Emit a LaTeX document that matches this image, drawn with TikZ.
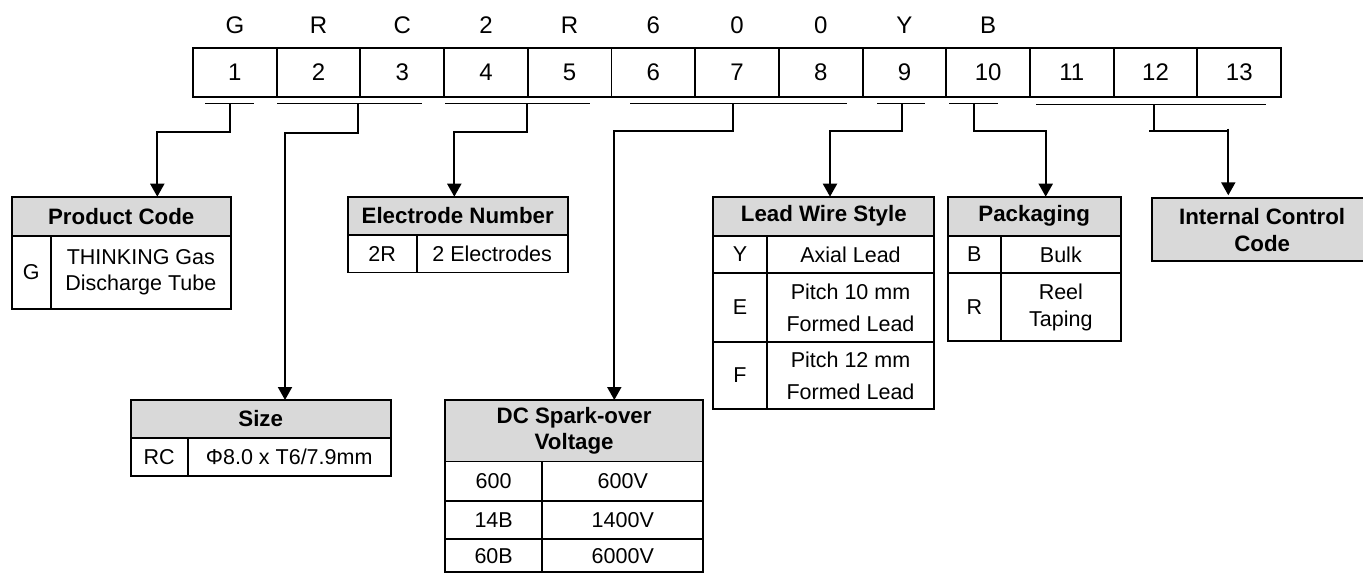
\documentclass[tikz,border=0pt]{standalone}
\usepackage{fontspec}
\setmainfont{Liberation Sans}
\usetikzlibrary{arrows.meta}
\definecolor{headgray}{RGB}{217,217,217}
\newcommand\tabfont{\fontsize{21.5}{26}\selectfont}
\newcommand\headfont{\fontsize{22.3}{26.5}\selectfont\bfseries}
\newcommand\codefont{\fontsize{24}{28}\selectfont}
\newcommand\cellnode[7][]{%
  \pgfmathsetmacro\cw{#4-#2}\pgfmathsetmacro\ch{#5-#3}%
  \node[cellbox,#1,minimum width=\cw pt,minimum height=\ch pt] (#6) at ({(#2+#4)/2},{(#3+#5)/2}) {#7};}
\tikzset{
  cellbox/.style={draw=black, line width=1.9pt, inner sep=0pt, outer sep=0pt, align=center, font=\tabfont},
  headbox/.style={fill=headgray, font=\headfont},
  codecell/.style={draw=black, line width=1.9pt, minimum width=83.7pt, minimum height=49pt, inner sep=0pt, outer sep=0pt, font=\codefont},
  letter/.style={inner sep=0pt, font=\codefont, anchor=base},
  uline/.style={line width=1.5pt},
  conn/.style={line width=2pt},
  arr/.style={conn, -{Triangle[width=14pt,length=13pt]}},
}
\begin{document}
\begin{tikzpicture}[x=1pt,y=-1pt]
\useasboundingbox (0,0) rectangle (1363,573);
% code row
\foreach \i in {1,...,13} {
  \pgfmathsetmacro\cx{193+83.7*(\i-0.5)}
  \node[codecell] (c\i) at (\cx,72.5) {\i};
}
\foreach \l [count=\i] in {G,R,C,2,R,6,0,0,Y,B} {
  \pgfmathsetmacro\cx{193+83.7*(\i-0.5)}
  \node[letter] (l\i) at (\cx,33.3) {\l};
}
% underlines
\coordinate (u1s) at (205,103.5);   \coordinate (u1e) at (254,103.5);   \coordinate (u1m) at (230,103.5);
\coordinate (u2s) at (277.3,103.5); \coordinate (u2e) at (422.3,103.5); \coordinate (u2m) at (358.3,103.5);
\coordinate (u3s) at (445,103.5);   \coordinate (u3e) at (590,103.5);   \coordinate (u3m) at (526.7,103.5);
\coordinate (u4s) at (630,103.5);   \coordinate (u4e) at (847.3,103.5); \coordinate (u4m) at (733.3,103.5);
\coordinate (u5s) at (877.3,103.5); \coordinate (u5e) at (925,103.5);   \coordinate (u5m) at (902.3,103.5);
\coordinate (u6s) at (949.3,103.5); \coordinate (u6e) at (998.3,103.5); \coordinate (u6m) at (974,103.5);
\coordinate (u7s) at (1036,104.5);  \coordinate (u7e) at (1266,104.5);  \coordinate (u7m) at (1154,104.5);
\foreach \k in {1,...,7} { \draw[uline] (u\k s) -- (u\k e); }
% bend points
\coordinate (k1) at (157.3,131.5);
\coordinate (k2) at (285,132.5);
\coordinate (k3) at (454.3,131.7);
\coordinate (k4) at (614.3,130.7);
\coordinate (k5) at (830,130.7);
\coordinate (k6) at (1045.7,130.7);
\coordinate (k7a) at (1154,132);
\coordinate (k7l) at (1149.3,131);
\coordinate (k7r) at (1229.3,131);
\coordinate (k7t) at (1228.3,128.5);
% Product Code
\cellnode[headbox]{11.7}{196.7}{230.7}{235.7}{pcT}{Product Code}
\cellnode{11.7}{235.7}{51}{309.3}{pcK}{G}
\cellnode{51}{235.7}{230.7}{309.3}{pcV}{THINKING Gas\\Discharge Tube}
% Size
\cellnode[headbox]{130.7}{400}{390.7}{437.7}{szT}{Size}
\cellnode{130.7}{437.7}{187.7}{475.7}{szK}{RC}
\cellnode{187.7}{437.7}{390.7}{475.7}{szV}{Φ8.0 x T6/7.9mm}
% Electrode Number
\cellnode[headbox]{347.7}{196.7}{567.7}{235}{enT}{Electrode Number}
\cellnode{347.7}{235}{416.7}{272.5}{enK}{2R}
\cellnode{416.7}{235}{567.7}{272.5}{enV}{2 Electrodes}
% DC Spark-over Voltage
\cellnode[headbox]{445}{400}{703.3}{461.5}{dcT}{DC Spark-over\\[0.2pt]Voltage}
\cellnode{445}{461.5}{542.3}{500.7}{dcK1}{600}
\cellnode{542.3}{461.5}{703.3}{500.7}{dcV1}{600V}
\cellnode{445}{500.7}{542.3}{539.3}{dcK2}{14B}
\cellnode{542.3}{500.7}{703.3}{539.3}{dcV2}{1400V}
\cellnode{445}{539.3}{542.3}{572}{dcK3}{60B}
\cellnode{542.3}{539.3}{703.3}{572}{dcV3}{6000V}
% Lead Wire Style
\cellnode[headbox]{713.3}{196.7}{934.3}{235.7}{lwT}{Lead Wire Style}
\cellnode{713.3}{235.7}{766.7}{273.3}{lwK1}{Y}
\cellnode{766.7}{235.7}{934.3}{273.3}{lwV1}{Axial Lead}
\cellnode{713.3}{273.3}{766.7}{341.7}{lwK2}{E}
\cellnode{766.7}{273.3}{934.3}{341.7}{lwV2}{Pitch 10 mm\\[5.7pt]Formed Lead}
\cellnode{713.3}{341.7}{766.7}{409.3}{lwK3}{F}
\cellnode{766.7}{341.7}{934.3}{409.3}{lwV3}{Pitch 12 mm\\[5.7pt]Formed Lead}
% Packaging
\cellnode[headbox]{947.7}{196.7}{1120.7}{235.7}{pkT}{Packaging}
\cellnode{947.7}{235.7}{1001}{273.3}{pkK1}{B}
\cellnode{1001}{235.7}{1120.7}{273.3}{pkV1}{Bulk}
\cellnode{947.7}{273.3}{1001}{341}{pkK2}{R}
\cellnode{1001}{273.3}{1120.7}{341}{pkV2}{Reel\\[1pt]Taping}
% Internal Control Code
\cellnode[headbox]{1152.3}{198.3}{1372}{261}{icT}{Internal Control\\[0.5pt]Code}
% connectors
\draw[arr] (u1m) |- (k1) -- (k1 |- pcT.north);
\draw[arr] (u2m) |- (k2) -- (k2 |- szT.north);
\draw[arr] (u3m) |- (k3) -- (k3 |- enT.north);
\draw[arr] (u4m) |- (k4) -- (k4 |- dcT.north);
\draw[arr] (u5m) |- (k5) -- (k5 |- lwT.north);
\draw[arr] (u6m) |- (k6) -- (k6 |- pkT.north);
\draw[conn] (u7m) -- (k7a);
\draw[conn] (k7l) -- (k7r);
\draw[arr, shorten >=3pt] (k7t) -- (k7t |- icT.north);
\end{tikzpicture}
\end{document}
